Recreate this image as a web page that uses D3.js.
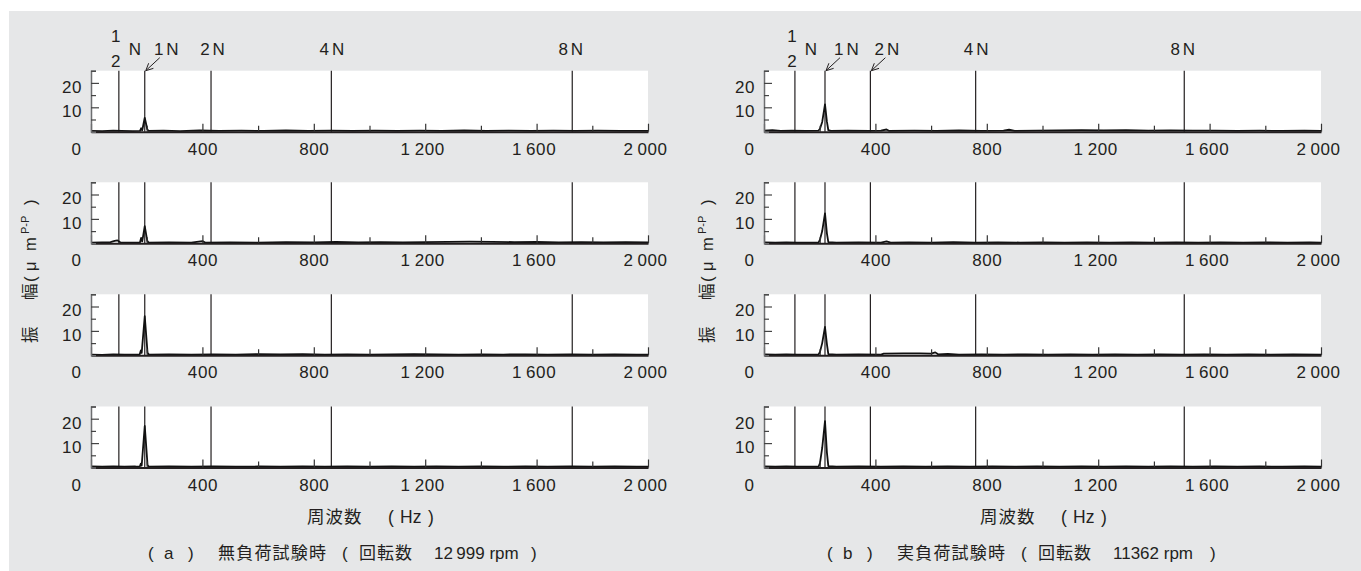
<!DOCTYPE html>
<html>
<head>
<meta charset="utf-8">
<script src="https://cdn.jsdelivr.net/npm/d3@7"></script>
<style>
  body { margin: 0; background: #fff; }
  text { font-family: "Liberation Sans", "Noto Sans CJK JP", sans-serif; fill: #231f20; }
</style>
</head>
<body>
<div id="chart"></div>
<script>
// frequency axis ticks (Hz)
var majorTicks = [0, 400, 800, 1200, 1600, 2000];
var minorTicks = [200, 600, 1000, 1400, 1800];
var ampTicksMajor = [10, 20];
var ampTicksMinor = [5, 15, 25];

// harmonic marker frequencies (1/2N, 1N, 2N, 4N, 8N)
var refLinesA = [100, 193, 431, 863, 1728];
var refLinesB = [111, 219, 382, 760, 1509];

// spectra, [Hz, um p-p], four measuring points per panel
var specA1 = [[0,0.3],[40,0.2],[80,0.4],[110,0.3],[150,0.2],[176,0.3],[180,1.4],[184,0.6],[193,5.7],[202,1.0],[207,0.3],[260,0.4],[320,0.2],[390,0.5],[460,0.3],[540,0.4],[620,0.3],[700,0.5],[780,0.3],[860,0.4],[940,0.3],[1020,0.4],[1100,0.3],[1180,0.4],[1260,0.3],[1340,0.5],[1420,0.3],[1500,0.4],[1580,0.3],[1660,0.4],[1740,0.3],[1820,0.4],[1900,0.3],[2000,0.3]];
var specA2 = [[0,0.3],[40,0.4],[70,0.5],[85,1.0],[95,1.2],[105,0.4],[150,0.3],[176,0.4],[180,2.2],[184,0.8],[193,7.0],[202,1.0],[207,0.3],[280,0.4],[360,0.3],[400,0.9],[410,0.3],[500,0.4],[600,0.3],[700,0.5],[800,0.4],[880,0.6],[960,0.4],[1040,0.5],[1120,0.4],[1200,0.5],[1280,0.6],[1360,0.7],[1440,0.6],[1520,0.5],[1600,0.6],[1680,0.4],[1760,0.5],[1840,0.4],[1920,0.5],[2000,0.4]];
var specA3 = [[0,0.3],[40,0.2],[80,0.4],[120,0.3],[160,0.3],[175,0.4],[179,2.0],[182,1.0],[193,16.0],[203,1.0],[208,0.3],[280,0.4],[360,0.3],[440,0.4],[520,0.3],[600,0.5],[680,0.4],[760,0.5],[840,0.3],[920,0.4],[1000,0.3],[1080,0.4],[1160,0.5],[1240,0.4],[1320,0.3],[1400,0.4],[1480,0.3],[1560,0.4],[1640,0.3],[1720,0.4],[1800,0.3],[1880,0.4],[1960,0.3],[2000,0.3]];
var specA4 = [[0,0.4],[40,0.3],[80,0.5],[120,0.3],[160,0.4],[175,0.3],[179,1.6],[182,0.8],[193,17.0],[203,1.0],[208,0.3],[280,0.4],[360,0.3],[440,0.4],[520,0.3],[600,0.4],[680,0.3],[760,0.4],[840,0.3],[920,0.4],[1000,0.3],[1080,0.4],[1160,0.3],[1240,0.4],[1320,0.3],[1400,0.4],[1480,0.3],[1560,0.4],[1640,0.3],[1720,0.4],[1800,0.3],[1880,0.4],[1960,0.3],[2000,0.3]];
var specB1 = [[0,0.4],[30,0.6],[60,0.3],[100,0.4],[150,0.3],[195,0.4],[201,1.2],[209,4.0],[219,11.2],[226,4.0],[231,0.6],[240,0.3],[300,0.4],[380,0.3],[420,0.4],[440,0.9],[450,0.3],[540,0.4],[620,0.3],[700,0.5],[780,0.3],[860,0.4],[880,0.8],[900,0.3],[980,0.4],[1060,0.5],[1140,0.6],[1220,0.5],[1300,0.6],[1380,0.4],[1460,0.5],[1540,0.4],[1620,0.4],[1700,0.3],[1780,0.4],[1860,0.3],[1940,0.4],[2000,0.3]];
var specB2 = [[0,0.4],[40,0.3],[80,0.4],[120,0.3],[160,0.3],[196,0.4],[201,1.5],[209,5.0],[219,12.3],[226,4.0],[231,0.5],[260,0.3],[340,0.4],[420,0.3],[440,0.8],[455,0.3],[520,0.4],[600,0.3],[680,0.5],[760,0.3],[840,0.4],[920,0.3],[1000,0.4],[1080,0.3],[1160,0.4],[1240,0.3],[1320,0.4],[1400,0.3],[1480,0.4],[1560,0.3],[1640,0.4],[1720,0.3],[1800,0.4],[1880,0.3],[1960,0.4],[2000,0.3]];
var specB3 = [[0,0.4],[40,0.3],[80,0.4],[120,0.3],[160,0.3],[196,0.4],[201,1.4],[209,5.0],[219,11.6],[226,4.5],[231,0.5],[260,0.3],[340,0.4],[420,0.3],[430,0.7],[500,0.8],[560,0.8],[600,0.7],[615,1.2],[625,0.4],[660,0.6],[700,0.3],[780,0.4],[860,0.3],[940,0.4],[1020,0.3],[1100,0.4],[1180,0.3],[1260,0.4],[1340,0.3],[1420,0.4],[1500,0.3],[1580,0.4],[1660,0.3],[1740,0.4],[1820,0.3],[1900,0.4],[2000,0.3]];
var specB4 = [[0,0.4],[40,0.3],[80,0.4],[120,0.3],[160,0.3],[196,0.4],[201,1.8],[209,8.0],[219,19.0],[226,6.0],[231,0.6],[260,0.3],[340,0.4],[420,0.3],[500,0.4],[580,0.3],[660,0.4],[740,0.3],[820,0.4],[900,0.3],[980,0.4],[1060,0.3],[1140,0.4],[1220,0.3],[1300,0.4],[1380,0.3],[1460,0.4],[1540,0.3],[1620,0.4],[1700,0.3],[1780,0.4],[1860,0.3],[1940,0.4],[2000,0.3]];

var specsA = [specA1, specA2, specA3, specA4];
var specsB = [specB1, specB2, specB3, specB4];

var rpmA = "12\u2009999";
var rpmB = "11362";

// layout
var W = 1361, H = 571;
var plotW = 557, plotH = 61;
var rowTops = [70.7, 182.3, 294.3, 406.5];

var svg = d3.select("#chart").append("svg")
  .attr("width", W).attr("height", H);

svg.append("rect").attr("x", 9).attr("y", 11)
  .attr("width", W - 9).attr("height", H - 11)
  .attr("fill", "#e6e7e8");

function fmt(d) {
  if (d >= 1000) return Math.floor(d / 1000) + "\u2009" + d3.format("03d")(d % 1000);
  return String(d);
}

// text made of pieces placed at given x offsets
function pieces(g, y, x0, parts, size) {
  var t = g.append("text").attr("y", y).attr("font-size", size);
  parts.forEach(function(p) {
    var s = t.append("tspan").attr("x", x0 + p[0]).text(p[1]);
    if (p[2]) s.attr("letter-spacing", p[2]);
  });
  return t;
}

function drawPanel(x0, refs, specs, arrowed, letter, rpm, kind, capX, yTitleX) {
  var x = d3.scaleLinear().domain([0, 2000]).range([x0, x0 + plotW]);
  var off = x0 - 91;

  specs.forEach(function(spec, i) {
    var top = rowTops[i];
    var y = d3.scaleLinear().domain([0, 25]).range([top + plotH, top]);
    var g = svg.append("g");

    g.append("rect").attr("x", x0).attr("y", top)
      .attr("width", plotW).attr("height", plotH).attr("fill", "#fff");

    // harmonic marker lines
    g.selectAll(".ref").data(refs).enter().append("line")
      .attr("x1", function(d) { return x(d); }).attr("x2", function(d) { return x(d); })
      .attr("y1", top).attr("y2", top + plotH)
      .attr("stroke", "#231f20").attr("stroke-width", 1.2);

    // spectrum
    var line = d3.line().x(function(d) { return x(d[0]); }).y(function(d) { return y(d[1]); });
    g.append("path").datum(spec).attr("d", line)
      .attr("fill", "none").attr("stroke", "#111").attr("stroke-width", 1.8)
      .attr("stroke-linejoin", "round");

    // x axis: minor ticks
    var minorAx = g.append("g").attr("transform", "translate(0," + (top + plotH) + ")")
      .call(d3.axisBottom(x).tickValues(minorTicks).tickSize(-6).tickFormat(""));
    minorAx.select(".domain").remove();
    minorAx.selectAll("line").attr("stroke", "#333").attr("stroke-width", 1.2);

    // x axis: major ticks with labels
    var majorAx = g.append("g").attr("transform", "translate(0," + (top + plotH) + ")")
      .call(d3.axisBottom(x).tickValues(majorTicks).tickSizeInner(-8).tickSizeOuter(0)
        .tickPadding(11).tickFormat(fmt));
    majorAx.select(".domain").attr("stroke", "#231f20").attr("stroke-width", 2);
    majorAx.selectAll("line").attr("stroke", "#333").attr("stroke-width", 1.2);
    majorAx.selectAll("text")
      .attr("font-size", 17).attr("fill", "#231f20").attr("letter-spacing", 0.6)
      .style("font-family", "'Liberation Sans', sans-serif")
      .attr("dx", function(d) { return d === 0 ? -15 : (d >= 1000 ? -3 : 0); });

    // y axis
    var yMinor = g.append("g").attr("transform", "translate(" + x0 + ",0)")
      .call(d3.axisLeft(y).tickValues(ampTicksMinor).tickSize(-5).tickFormat(""));
    yMinor.select(".domain").attr("stroke", "#6d6e70").attr("stroke-width", 1.5);
    yMinor.selectAll("line").attr("stroke", "#444").attr("stroke-width", 1.2);
    var yMajor = g.append("g").attr("transform", "translate(" + x0 + ",0)")
      .call(d3.axisLeft(y).tickValues(ampTicksMajor).tickSizeInner(-8).tickSizeOuter(0).tickPadding(9));
    yMajor.select(".domain").remove();
    yMajor.selectAll("line").attr("stroke", "#444").attr("stroke-width", 1.2);
    yMajor.selectAll("text")
      .attr("font-size", 17).attr("fill", "#231f20").attr("dy", "0.55em").attr("letter-spacing", 0.5)
      .style("font-family", "'Liberation Sans', sans-serif");
  });

  // harmonic labels above top row
  var top0 = rowTops[0];
  var lab = svg.append("g").attr("font-size", 17).attr("text-anchor", "middle");
  var hx = x(refs[0]) - 3;
  lab.append("text").attr("x", hx).attr("y", 42).text("1");
  lab.append("text").attr("x", hx).attr("y", 67).text("2");
  lab.append("text").attr("x", hx + 19).attr("y", 55).text("N");
  lab.append("text").attr("x", x(refs[1]) + 23).attr("y", 55).attr("letter-spacing", 3).text("1N");
  lab.append("text").attr("x", x(refs[2]) + (arrowed.length > 1 ? 18 : 3)).attr("y", 55).attr("letter-spacing", 3).text("2N");
  lab.append("text").attr("x", x(refs[3]) + 2).attr("y", 55).attr("letter-spacing", 3).text("4N");
  lab.append("text").attr("x", x(refs[4])).attr("y", 55).attr("letter-spacing", 3).text("8N");

  // arrows pointing at the marker lines
  arrowed.forEach(function(k) {
    var tx = x(refs[k]) + 1, ty = top0;
    var sx = tx + 14, sy = ty - 13;
    var ang = Math.atan2(sy - ty, sx - tx);
    var a = svg.append("g").attr("stroke", "#231f20").attr("stroke-width", 1).attr("fill", "none");
    a.append("line").attr("x1", sx).attr("y1", sy).attr("x2", tx).attr("y2", ty);
    [0.45, -0.45].forEach(function(o) {
      a.append("line").attr("x1", tx).attr("y1", ty)
        .attr("x2", tx + 8 * Math.cos(ang + o)).attr("y2", ty + 8 * Math.sin(ang + o));
    });
  });

  // x axis title
  pieces(svg, 523, 307 + off, [[0, "周波数", 1], [81, "("], [93, "Hz"], [121, ")"]], 17.5);

  // caption
  pieces(svg, 559, capX, [
    [0, "("], [16, letter], [40, ")"],
    [70, kind, 1.2],
    [194, "("], [211, "回転数", 1],
    [286, rpm + " rpm"],
    [383, ")"]
  ], 17);

  // y axis title, rotated, pieces placed along the reading direction
  var yt = svg.append("text").attr("transform", "translate(" + yTitleX + ",0) rotate(-90)")
    .attr("font-size", 16.5);
  yt.append("tspan").attr("x", -343).text("振");
  yt.append("tspan").attr("x", -300).text("幅");
  yt.append("tspan").attr("x", -282).text("(");
  yt.append("tspan").attr("x", -271).text("μ");
  yt.append("tspan").attr("x", -251).text("m");
  yt.append("tspan").attr("x", -234).attr("font-size", 11).attr("dy", -7).text("P-P");
  yt.append("tspan").attr("x", -205).attr("dy", 7).text(")");
}

drawPanel(91, refLinesA, specsA, [1], "a", rpmA, "無負荷試験時", 148, 36);
drawPanel(764, refLinesB, specsB, [1, 2], "b", rpmB, "実負荷試験時", 827, 713);
</script>
</body>
</html>
